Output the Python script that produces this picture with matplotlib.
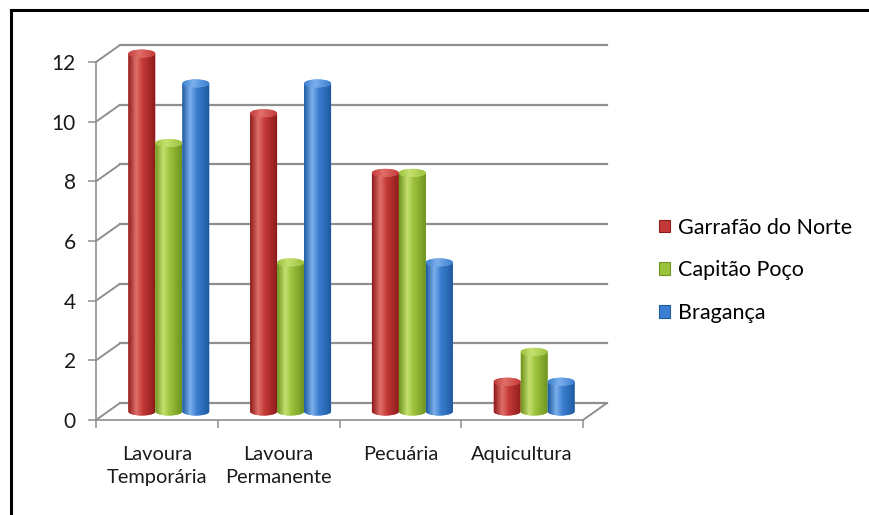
import numpy as np
import matplotlib
matplotlib.use("Agg")
import matplotlib.pyplot as plt
from matplotlib.colors import LinearSegmentedColormap
from matplotlib.patches import Ellipse, PathPatch, Patch
from matplotlib.path import Path
from matplotlib.transforms import ScaledTranslation
from matplotlib.lines import Line2D

categories = ["Lavoura\nTemporária", "Lavoura\nPermanente", "Pecuária", "Aquicultura"]
series = ["Garrafão do Norte", "Capitão Poço", "Bragança"]
garrafao = [12, 10, 8, 1]
capitao = [9, 5, 8, 2]
braganca = [11, 11, 5, 1]
yticks = [0, 2, 4, 6, 8, 10, 12]

# dark edge, body, highlight for each cylinder colour
shades = [
    ("#8e1c1c", "#c43a38", "#e0706a"),
    ("#6f9420", "#9cc23c", "#c4e070"),
    ("#1f5aa0", "#3b7fd0", "#7cb0ec"),
]

plt.rcParams["font.family"] = ["Lato", "DejaVu Sans"]
DPI = 100
fig = plt.figure(figsize=(8.69, 5.15), dpi=DPI)
# y range goes a bit past 12 so the top caps are not clipped; spine stops at 12
ytop = 13.0
ax = fig.add_axes([96 / 869, (515 - 420) / 515, 487 / 869, 29.83 * ytop / 515])
ax.set_xlim(-0.5, 3.5)
ax.set_ylim(0, ytop)

grid = "#8f8f8f"
back = ax.transData + ScaledTranslation(24 / DPI, 17 / DPI, fig.dpi_scale_trans)
mid = ax.transData + ScaledTranslation(12 / DPI, 8.5 / DPI, fig.dpi_scale_trans)

# back wall gridlines and the depth connectors from the front axis
for y in yticks:
    ax.plot([-0.5, 3.5], [y, y], color=grid, lw=1.6, transform=back, zorder=1,
            clip_on=False)
    ax.annotate("", xy=(-0.5, y), xytext=(24, 17), textcoords="offset pixels",
                arrowprops=dict(arrowstyle="-", color=grid, lw=1.4,
                                shrinkA=0, shrinkB=0), annotation_clip=False)
ax.annotate("", xy=(3.5, 0), xytext=(24, 17), textcoords="offset pixels",
            arrowprops=dict(arrowstyle="-", color=grid, lw=1.4,
                            shrinkA=0, shrinkB=0), annotation_clip=False)

# cylinders
values = [garrafao, capitao, braganca]
bw = 27 / 121.75
eh = 8 / 29.83
grad = np.linspace(0, 1, 64)[None, :]
t = np.linspace(np.pi, 2 * np.pi, 40)
for i, vals in enumerate(values):
    dark, body, light = shades[i]
    cmap = LinearSegmentedColormap.from_list(
        "c%d" % i, [(0, dark), (0.3, light), (0.55, body), (1, dark)])
    cap_cmap = LinearSegmentedColormap.from_list(
        "k%d" % i, [(0, body), (0.4, light), (1, body)])
    for j, v in enumerate(vals):
        xc = j + (i - 1) * bw
        x0, x1 = xc - bw / 2, xc + bw / 2
        verts = list(zip(xc + bw / 2 * np.cos(t), eh / 2 * np.sin(t)))
        verts += [(x1, v), (x0, v), (x0, 0)]
        codes = [Path.MOVETO] + [Path.LINETO] * (len(verts) - 2) + [Path.CLOSEPOLY]
        body_patch = PathPatch(Path(verts, codes), facecolor=body, edgecolor="none",
                               transform=mid, zorder=3)
        ax.add_patch(body_patch)
        im = ax.imshow(grad, cmap=cmap, extent=(x0, x1, -eh, v), aspect="auto",
                       interpolation="bilinear", transform=mid, zorder=3)
        im.set_clip_path(body_patch)
        cap = Ellipse((xc, v), bw, eh, facecolor=light, edgecolor="none",
                      transform=mid, zorder=4)
        ax.add_patch(cap)
        im2 = ax.imshow(grad, cmap=cap_cmap, extent=(x0, x1, v - eh, v + eh),
                        aspect="auto", interpolation="bilinear", transform=mid,
                        zorder=4)
        im2.set_clip_path(cap)

ax.set_xlim(-0.5, 3.5)
ax.set_ylim(0, ytop)

for s in ["top", "right"]:
    ax.spines[s].set_visible(False)
for s in ["left", "bottom"]:
    ax.spines[s].set_color(grid)
    ax.spines[s].set_linewidth(1.2)
ax.spines["left"].set_bounds(0, 12)

ax.set_yticks(yticks)
ax.set_yticklabels([str(y) for y in yticks], fontsize=15, color="#1a1a1a")
ax.tick_params(axis="y", direction="out", length=5.5, width=1.1, color=grid, pad=9)
ax.set_xticks(range(len(categories)))
ax.set_xticklabels(categories, fontsize=14.4, color="#1a1a1a", linespacing=1.38)
ax.set_xticks(np.arange(-0.5, 4, 1), minor=True)
ax.tick_params(axis="x", which="major", length=0, pad=19)
ax.tick_params(axis="x", which="minor", direction="out", length=5.5, width=1.1,
               color=grid)

handles = [Patch(facecolor=shades[i][1], edgecolor=shades[i][0], lw=0.8)
           for i in range(3)]
fig.legend(handles, series, loc="upper left", bbox_to_anchor=(650 / 869, 1 - 209 / 515),
           frameon=False, fontsize=15.5, handlelength=0.55, handleheight=0.55,
           handletextpad=0.35, labelspacing=1.05, borderaxespad=0)

# outer frame (left and top edges)
fig.add_artist(Line2D([11 / 869, 11 / 869], [0, 1 - 10 / 515], color="black", lw=2.2,
                      transform=fig.transFigure))
fig.add_artist(Line2D([11 / 869, 1], [1 - 10 / 515, 1 - 10 / 515], color="black",
                      lw=2.2, transform=fig.transFigure))

fig.savefig("out.png", dpi=DPI)
